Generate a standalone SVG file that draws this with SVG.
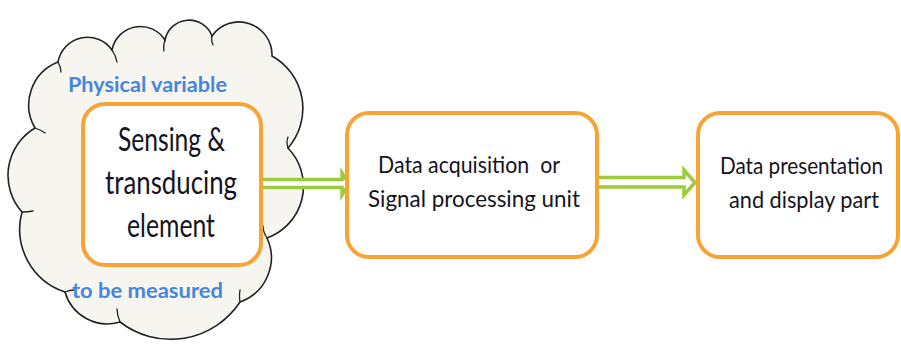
<svg xmlns="http://www.w3.org/2000/svg" width="901" height="345" viewBox="0 0 901 345">
<style>
.box{fill:#ffffff;stroke:#f7a336;stroke-width:4}
.arrow{fill:#ffffff;stroke:#9dcc3a;stroke-width:3.5;stroke-linejoin:miter}
.t{font-family:Lato,"Open Sans","Liberation Sans",sans-serif;fill:#141420;white-space:pre}
.lbl{font-family:Lato,"Open Sans","Liberation Sans",sans-serif;font-weight:bold;fill:#4686dc;font-size:20px}
.cloud{fill:#f6f5f0;stroke:#222;stroke-width:1.6}
.crease{fill:none;stroke:#222;stroke-width:1.3;stroke-linecap:round}
</style>
<rect width="901" height="345" fill="#ffffff"/>
<g id="cloud">
<path class="cloud" d="M58,62 A30,30 0 0 1 112,50 A29,29 0 0 1 165,40 A24.5,24.5 0 0 1 212,36 A33,33 0 0 1 272,56 A60,60 0 0 1 288,148 A55,55 0 0 1 267,238 A47,47 0 0 1 240,302 A83,83 0 0 1 120,322 A44,44 0 0 1 65,292 A66,66 0 0 1 22,212 A55,55 0 0 1 35,128 A46,46 0 0 1 58,62 Z"/>
<path class="crease" d="M112,50 Q116,56 117,62 M165,40 Q163,46 164,51 M212,36 Q211,41 213,45 M288,148 Q286,142 288,137 M267,238 Q263,232 263,226 M240,302 Q239,296 240,290 M120,322 Q117,315 117,309 M65,292 Q70,290 74,290 M22,212 Q28,212 33,211 M35,128 Q41,130 45,133 M58,62 Q61,67 61,72"/>
<text class="lbl" x="68" y="92" textLength="159" lengthAdjust="spacingAndGlyphs">Physical variable</text>
<text class="lbl" x="72" y="298" textLength="151" lengthAdjust="spacingAndGlyphs">to be measured</text>
</g>
<g id="connectors">
<polygon class="arrow" points="261,179.5 342,179.5 342,173 349,184 342,195 342,187.5 261,187.5"/>
<polygon class="arrow" points="597,177.5 684,177.5 684,170 695,182.5 684,195 684,187 597,187"/>
</g>
<g id="sensing">
<rect class="box" x="83" y="104" width="178" height="161" rx="22"/>
<text class="t" font-size="32" x="118" y="151" textLength="107" lengthAdjust="spacingAndGlyphs">Sensing &amp;</text>
<text class="t" font-size="32" x="105" y="194" textLength="132" lengthAdjust="spacingAndGlyphs">transducing</text>
<text class="t" font-size="32" x="127" y="237" textLength="88" lengthAdjust="spacingAndGlyphs">element</text>
</g>
<g id="acquisition">
<rect class="box" x="347" y="113" width="250" height="144" rx="22"/>
<text class="t" font-size="24" x="378" y="173" textLength="182" lengthAdjust="spacingAndGlyphs" xml:space="preserve">Data acquisition  or</text>
<text class="t" font-size="24" x="368" y="207" textLength="212" lengthAdjust="spacingAndGlyphs">Signal processing unit</text>
</g>
<g id="presentation">
<rect class="box" x="698" y="113" width="200" height="144" rx="22"/>
<text class="t" font-size="24" x="720" y="174" textLength="163" lengthAdjust="spacingAndGlyphs">Data presentation</text>
<text class="t" font-size="24" x="729" y="208" textLength="150" lengthAdjust="spacingAndGlyphs">and display part</text>
</g>
</svg>
